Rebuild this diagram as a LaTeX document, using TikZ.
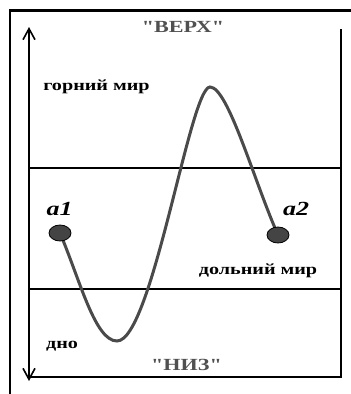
\documentclass[tikz,border=0pt]{standalone}
\usepackage{fontspec}
\setmainfont{Liberation Serif}
\usetikzlibrary{arrows.meta,shapes.geometric}
\newcommand{\hs}[1]{\scalebox{1.3}[1]{#1}}
\definecolor{curvegray}{HTML}{4A4A4A}
\definecolor{dotgray}{HTML}{444444}
\definecolor{titlegray}{HTML}{505050}
\begin{document}
\begin{tikzpicture}[x=1pt,y=-1pt,
  lbl/.style={font=\bfseries\fontsize{15.5}{18}\selectfont, inner sep=0pt},
  ttl/.style={font=\bfseries\fontsize{17}{19}\selectfont, text=titlegray, inner sep=0pt},
  pt/.style={font=\bfseries\itshape\fontsize{20}{22}\selectfont, inner sep=0pt},
  dot/.style={ellipse, draw=black, line width=0.8pt, fill=dotgray, minimum width=22pt, minimum height=16pt, inner sep=0pt},
  thick frame/.style={line width=2.5pt},
  thin line/.style={line width=1.8pt},
  curve/.style={draw=curvegray, line width=3pt, line cap=round}
]
\useasboundingbox (0,0) rectangle (351,394);
% outer frame
\coordinate (otl) at (10,10.5);
\coordinate (otr) at (351,10.5);
\coordinate (obl) at (10,394);
\draw[thick frame] (otr) -- (otl) -- (obl);
% inner box
\coordinate (atop) at (29,27);
\coordinate (abot) at (29,381);
\coordinate (rtop) at (341,29);
\coordinate (rbot) at (341,377);
\coordinate (bl) at (29,377);
\draw[line width=1.6pt, {Straight Barb[length=11pt,width=12pt]}-{Straight Barb[length=11pt,width=12pt]}] (atop) -- (abot);
\draw[thick frame] (rtop) -- (rbot);
\draw[thin line] (bl) -- ([xshift=1.25pt]rbot);
\coordinate (l1a) at (29,168.3);
\coordinate (l1b) at (341,168.3);
\coordinate (l2a) at (29,289);
\coordinate (l2b) at (341,289);
\draw[thin line] (l1a) -- (l1b);
\draw[thin line] (l2a) -- (l2b);
% texts
\node[ttl, anchor=base] (verh) at (183,32) {\hs{\textquotedbl ВЕРХ\textquotedbl}};
\node[lbl, anchor=base] (gor) at (96.5,90.5) {\hs{горний мир}};
\node[lbl, anchor=base] (dol) at (258,274) {\hs{дольний мир}};
\node[lbl, anchor=base] (dno) at (62,348) {\hs{дно}};
\node[ttl, anchor=base] (niz) at (186.5,370) {\hs{\textquotedbl НИЗ\textquotedbl}};
\node[pt, anchor=base] (a1) at (59.5,215) {\hs{a1}};
\node[pt, anchor=base] (a2) at (296,215) {\hs{a2}};
% curve
\coordinate (c0) at (60,233);
\coordinate (cmin) at (117,341);
\coordinate (cmax) at (210,87);
\coordinate (c3) at (278,235);
\draw[curve] (c0) .. controls (80,280) and (95,341) .. (cmin)
  .. controls (152,341) and (190,87) .. (cmax)
  .. controls (228,87) and (254,181) .. (c3);
\node[dot] (d1) at (c0) {};
\node[dot] (d2) at (c3) {};
\end{tikzpicture}
\end{document}
